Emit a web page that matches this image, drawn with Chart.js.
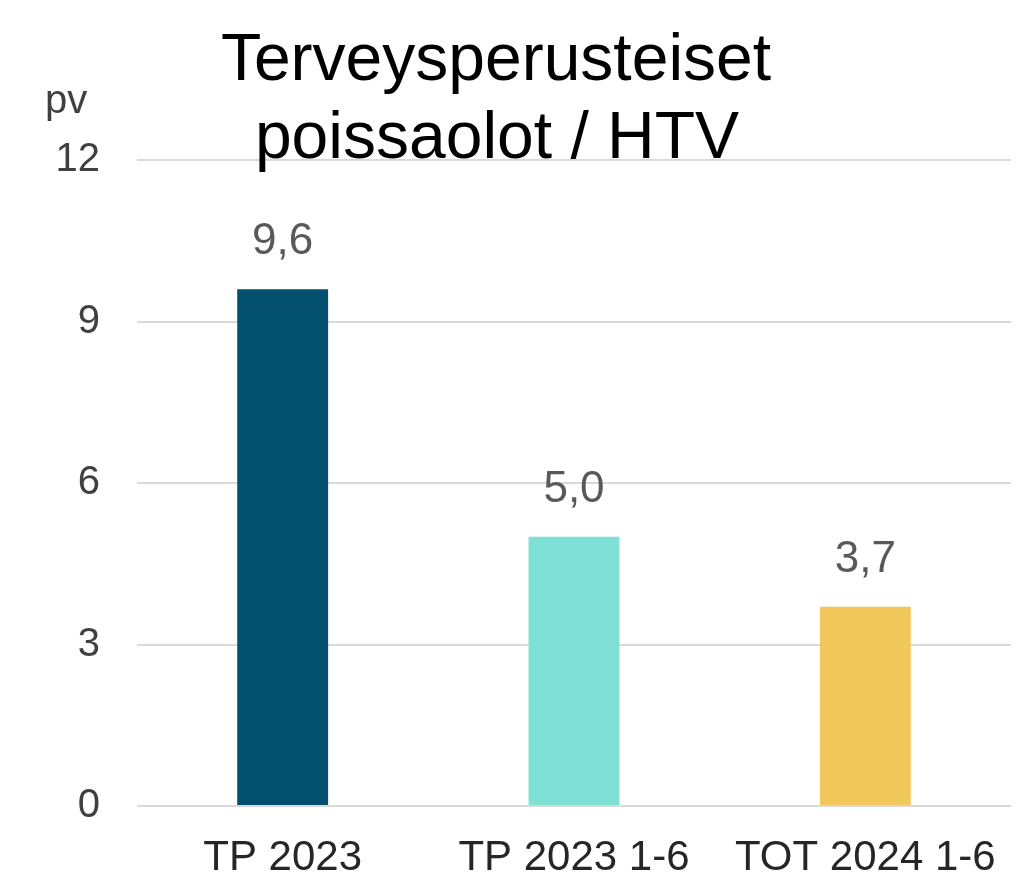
<!DOCTYPE html>
<html>
<head>
<meta charset="utf-8">
<script src="https://cdn.jsdelivr.net/npm/chart.js@4"></script>
<style>
  html, body { margin: 0; padding: 0; background: #fff; }
  #wrap { position: relative; width: 1025px; height: 882px; }
</style>
</head>
<body>
<div id="wrap"><canvas id="chart"></canvas></div>
<script>
const categories = ["TP 2023", "TP 2023 1-6", "TOT 2024 1-6"];
const values = [9.6, 5.0, 3.7];
const barColors = ["#024f6e", "#7fe1d5", "#f2c75c"];
const yTicks = [0, 3, 6, 9, 12];
const titleLines = ["Terveysperusteiset", "poissaolot / HTV"];
const unitLabel = "pv";

const FONT = "'Liberation Sans', Arial, sans-serif";

// title, unit label and value labels drawn on top of the chart
const textPlugin = {
    id: "texts",
    afterDatasetsDraw(chart) {
        const ctx = chart.ctx;
        ctx.save();
        // value labels over bars
        const meta = chart.getDatasetMeta(0);
        ctx.fillStyle = "#595959";
        ctx.font = "44px " + FONT;
        ctx.textAlign = "center";
        ctx.textBaseline = "alphabetic";
        meta.data.forEach((bar, i) => {
            ctx.fillText(values[i].toFixed(1).replace(".", ","), bar.x, bar.y - 35);
        });
        // unit
        ctx.fillStyle = "#404040";
        ctx.font = "40px " + FONT;
        ctx.textAlign = "left";
        ctx.fillText(unitLabel, 45, 113);
        // title
        ctx.fillStyle = "#000";
        ctx.font = "66px " + FONT;
        ctx.textAlign = "center";
        ctx.fillText(titleLines[0], 496, 80);
        ctx.fillText(titleLines[1], 497, 158);
        ctx.restore();
    }
};

new Chart(document.getElementById("chart"), {
    type: "bar",
    data: {
        labels: categories,
        datasets: [{
            data: values,
            backgroundColor: barColors,
            borderWidth: 0,
            barPercentage: 0.312,
            categoryPercentage: 1
        }]
    },
    options: {
        responsive: true,
        maintainAspectRatio: false,
        animation: false,
        layout: {
            padding: { top: 160, right: 14, bottom: 0, left: 0 }
        },
        plugins: {
            legend: { display: false },
            tooltip: { enabled: false },
            title: { display: false }
        },
        scales: {
            x: {
                grid: { display: false, drawTicks: false },
                border: { display: false },
                ticks: {
                    color: "#262626",
                    font: { family: FONT, size: 42 },
                    padding: 27,
                    maxRotation: 0
                },
                afterFit(scale) { scale.height = 76; }
            },
            y: {
                min: 0,
                max: 12,
                afterBuildTicks(scale) {
                    scale.ticks = yTicks.map(v => ({ value: v }));
                },
                grid: { color: "#d9d9d9", lineWidth: 2, drawTicks: false },
                border: { display: false },
                ticks: {
                    color: "#404040",
                    font: { family: FONT, size: 40 },
                    padding: 37
                },
                afterFit(scale) { scale.width = 137; }
            }
        }
    },
    plugins: [textPlugin]
});
</script>
</body>
</html>
